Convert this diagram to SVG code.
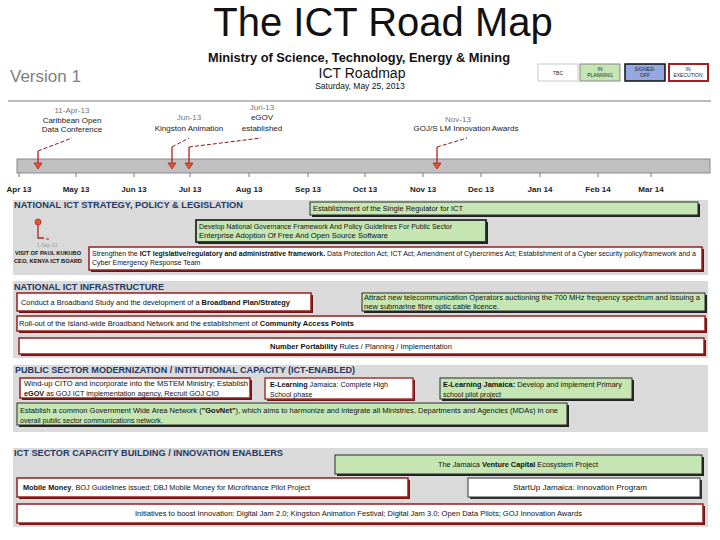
<svg xmlns="http://www.w3.org/2000/svg" width="720" height="540" viewBox="0 0 720 540">
<defs>
<style>
text{font-family:"Liberation Sans",Arial,sans-serif;fill:#111}
.panel{fill:#dadada}
.sec{font-size:9px;font-weight:bold;fill:#1f3864}
.red{fill:#fff;stroke:#9b1c1c;stroke-width:1.5}
.rsh{fill:#6b1616}
.grn{fill:#c5e6b3;stroke:#2a2a2a;stroke-width:1}
.gsh{fill:#222}
.bt{font-size:7px;fill:#111}
.mon{font-size:8px;font-weight:bold;fill:#222;text-anchor:middle}
.tick{stroke:#777;stroke-width:1}
.lbl{font-size:8px;fill:#222;text-anchor:middle}
.dt{font-size:8px;fill:#777;text-anchor:middle}
.dash{stroke:#8b1a1a;stroke-width:1;stroke-dasharray:4 2;fill:none}
.stem{stroke:#b22222;stroke-width:1.3;fill:none}
.tri{fill:#e4572e;stroke:#b22222;stroke-width:0.8}
.leg{font-size:5px;text-anchor:middle;fill:#222}
</style>
</defs>
<rect width="720" height="540" fill="#fff"/>

<!-- header -->
<g id="title">
<text x="383" y="36" font-size="40" text-anchor="middle" fill="#000">The ICT Road Map</text>
</g>
<g id="header">
<text x="359" y="62" font-size="12" font-weight="bold" text-anchor="middle" textLength="302" lengthAdjust="spacingAndGlyphs">Ministry of Science, Technology, Energy &amp; Mining</text>
<text x="362" y="78" font-size="14" text-anchor="middle">ICT Roadmap</text>
<text x="360" y="89" font-size="8.5" text-anchor="middle">Saturday, May 25, 2013</text>
<text x="10" y="82" font-size="17" fill="#808080" style="fill:#808080">Version 1</text>
<line x1="8" y1="101" x2="711" y2="101" stroke="#777" stroke-width="1"/>
</g>

<!-- legend -->
<g id="legend">
<rect x="538" y="64" width="40" height="17" fill="#fff" stroke="#c8c8c8" stroke-width="1"/>
<text class="leg" x="558" y="75">TBC</text>
<rect x="580" y="64" width="40" height="17" fill="#c5e6b3" stroke="#888" stroke-width="1"/>
<text class="leg" x="600" y="71">IN</text><text class="leg" x="600" y="77">PLANNING</text>
<rect x="625" y="64" width="40" height="17" fill="#94a9e2" stroke="#111" stroke-width="1.5"/>
<text class="leg" x="645" y="71">SIGNED-</text><text class="leg" x="645" y="77">OFF</text>
<rect x="669" y="64" width="39" height="17" fill="#fff" stroke="#a02020" stroke-width="2"/>
<text class="leg" x="688" y="71">IN</text><text class="leg" x="688" y="77">EXECUTION</text>
</g>

<!-- timeline -->
<g id="timeline">
<rect x="17" y="159" width="693" height="14" fill="#c0c0c0" stroke="#8a8a8a" stroke-width="1"/>
<g class="tick">
<line x1="19" y1="173" x2="19" y2="177"/><line x1="76" y1="173" x2="76" y2="177"/><line x1="134" y1="173" x2="134" y2="177"/><line x1="190" y1="173" x2="190" y2="177"/><line x1="249" y1="173" x2="249" y2="177"/><line x1="308" y1="173" x2="308" y2="177"/><line x1="365" y1="173" x2="365" y2="177"/><line x1="423" y1="173" x2="423" y2="177"/><line x1="481" y1="173" x2="481" y2="177"/><line x1="540" y1="173" x2="540" y2="177"/><line x1="598" y1="173" x2="598" y2="177"/><line x1="651" y1="173" x2="651" y2="177"/>
</g>
<text class="mon" x="19" y="192">Apr 13</text><text class="mon" x="76" y="192">May 13</text><text class="mon" x="134" y="192">Jun 13</text><text class="mon" x="190" y="192">Jul 13</text><text class="mon" x="249" y="192">Aug 13</text><text class="mon" x="308" y="192">Sep 13</text><text class="mon" x="365" y="192">Oct 13</text><text class="mon" x="423" y="192">Nov 13</text><text class="mon" x="481" y="192">Dec 13</text><text class="mon" x="540" y="192">Jan 14</text><text class="mon" x="598" y="192">Feb 14</text><text class="mon" x="651" y="192">Mar 14</text>
</g>

<!-- milestones -->
<g id="m-odc">
<text class="dt" x="72" y="113">11-Apr-13</text>
<text class="lbl" x="72" y="123">Caribbean Open</text>
<text class="lbl" x="72" y="132">Data Conference</text>
</g>
<g id="m-kingston">
<text class="dt" x="189" y="120">Jun-13</text>
<text class="lbl" x="189" y="131">Kingston Animation</text>
</g>
<g id="m-egov">
<text class="dt" x="262" y="110">Jun-13</text>
<text class="lbl" x="262" y="120">eGOV</text>
<text class="lbl" x="262" y="131">established</text>
</g>
<g id="m-awards">
<text class="dt" x="458" y="122">Nov-13</text>
<text class="lbl" x="466" y="131">GOJ/S LM Innovation Awards</text>
</g>

<!-- section 1 -->
<g id="sec1">
<rect class="panel" x="13" y="200" width="695" height="75"/>
<text class="sec" x="14" y="208" textLength="229" lengthAdjust="spacingAndGlyphs">NATIONAL ICT STRATEGY, POLICY &amp; LEGISLATION</text>
</g>
<g id="n-regulator">
<rect class="gsh" x="312" y="204" width="388" height="13"/>
<rect class="grn" x="310" y="202" width="388" height="13"/>
<text class="bt" x="313" y="211" textLength="150" lengthAdjust="spacingAndGlyphs">Establishment of the Single Regulator for ICT</text>
</g>
<g id="n-governance">
<rect class="gsh" x="198" y="222" width="290" height="22"/>
<rect class="grn" x="196" y="220" width="290" height="22" style="stroke-width:1.8"/>
<text class="bt" x="199" y="229" textLength="253" lengthAdjust="spacingAndGlyphs">Develop National Governance Framework And Policy Guidelines For Public Sector</text>
<text class="bt" x="199" y="238" textLength="189" lengthAdjust="spacingAndGlyphs">Enterprise Adoption Of Free And Open Source Software</text>
</g>
<g id="n-visit">
<circle cx="38" cy="222" r="3" fill="#e4572e" stroke="#b22222" stroke-width="0.8"/>
<polyline class="stem" points="38,225 38,238 44,238"/>
<line x1="46" y1="239" x2="49" y2="239" stroke="#b22222" stroke-width="1"/>
<text x="47" y="247" font-size="5" fill="#888" text-anchor="middle" style="fill:#999">1-Sep-13</text>
<text x="48" y="255" font-size="5.5" font-weight="bold" text-anchor="middle" textLength="66" lengthAdjust="spacingAndGlyphs">VISIT OF PAUL KUKUBO</text>
<text x="48" y="263" font-size="5.5" font-weight="bold" text-anchor="middle" textLength="68" lengthAdjust="spacingAndGlyphs">CEO, KENYA ICT BOARD</text>
</g>
<g id="n-strengthen">
<rect class="rsh" x="91" y="249" width="613" height="23"/>
<rect class="red" x="89" y="247" width="613" height="23"/>
<text class="bt" x="92" y="256" textLength="604" lengthAdjust="spacingAndGlyphs">Strengthen the <tspan font-weight="bold">ICT legislative/regulatory and administrative framework.</tspan> Data Protection Act; ICT Act; Amendment of Cybercrimes Act; Establishment of a Cyber security policy/framework and a</text>
<text class="bt" x="92" y="265">Cyber Emergency Response Team</text>
</g>

<!-- section 2 -->
<g id="sec2">
<rect class="panel" x="13" y="281" width="695" height="77"/>
<text class="sec" x="14" y="290" textLength="150" lengthAdjust="spacingAndGlyphs">NATIONAL ICT INFRASTRUCTURE</text>
</g>
<g id="n-study">
<rect class="rsh" x="19" y="295" width="294" height="18"/>
<rect class="red" x="17" y="293" width="294" height="18"/>
<text class="bt" x="21" y="305" textLength="269" lengthAdjust="spacingAndGlyphs">Conduct a Broadband Study and the development of a <tspan font-weight="bold">Broadband Plan/Strategy</tspan></text>
</g>
<g id="n-attract">
<rect class="gsh" x="364" y="295" width="343" height="18"/>
<rect class="grn" x="362" y="293" width="343" height="18"/>
<text class="bt" x="364" y="300" textLength="336" lengthAdjust="spacingAndGlyphs">Attract new telecommunication Operators auctioning the 700 MHz frequency spectrum and issuing a</text>
<text class="bt" x="364" y="309" textLength="135" lengthAdjust="spacingAndGlyphs">new submarine fibre optic cable licence.</text>
</g>
<g id="n-rollout">
<rect class="rsh" x="19" y="318" width="688" height="15"/>
<rect class="red" x="17" y="316" width="688" height="15"/>
<text class="bt" x="19" y="326" textLength="335" lengthAdjust="spacingAndGlyphs">Roll-out of the Island-wide Broadband Network and the establishment of <tspan font-weight="bold">Community Access Points</tspan></text>
</g>
<g id="n-portability">
<rect class="rsh" x="21" y="340" width="685" height="16"/>
<rect class="red" x="19" y="338" width="685" height="16"/>
<text class="bt" x="270" y="349" textLength="182" lengthAdjust="spacingAndGlyphs"><tspan font-weight="bold">Number Portability</tspan> Rules / Planning / Implementation</text>
</g>

<!-- section 3 -->
<g id="sec3">
<rect class="panel" x="13" y="365" width="695" height="67"/>
<text class="sec" x="15" y="373" textLength="340" lengthAdjust="spacingAndGlyphs">PUBLIC SECTOR MODERNIZATION / INTITUTIONAL CAPACITY (ICT-ENABLED)</text>
</g>
<g id="n-cito">
<rect class="rsh" x="22" y="380" width="230" height="20"/>
<rect class="red" x="20" y="378" width="230" height="20"/>
<text class="bt" x="24" y="386" textLength="224" lengthAdjust="spacingAndGlyphs">Wind-up CITO and incorporate into the MSTEM Ministry; Establish</text>
<text class="bt" x="24" y="396" textLength="195" lengthAdjust="spacingAndGlyphs"><tspan font-weight="bold">eGOV</tspan> as GOJ ICT implementation agency, Recruit GOJ CIO</text>
</g>
<g id="n-elearn-hs">
<rect class="rsh" x="267" y="380" width="148" height="21"/>
<rect class="red" x="265" y="378" width="148" height="21" style="stroke:#b03030"/>
<text class="bt" x="270" y="387" textLength="118" lengthAdjust="spacingAndGlyphs"><tspan font-weight="bold">E-Learning</tspan> Jamaica: Complete High</text>
<text class="bt" x="270" y="397">School phase</text>
</g>
<g id="n-elearn-pri">
<rect class="gsh" x="442" y="380" width="192" height="21"/>
<rect class="grn" x="440" y="378" width="192" height="21"/>
<text class="bt" x="443" y="387" textLength="179" lengthAdjust="spacingAndGlyphs"><tspan font-weight="bold">E-Learning Jamaica:</tspan> Develop and implement Primary</text>
<text class="bt" x="443" y="397">school pilot project</text>
</g>
<g id="n-govnet">
<rect class="gsh" x="19" y="405" width="550" height="22"/>
<rect class="grn" x="17" y="403" width="550" height="22"/>
<text class="bt" x="20" y="413" textLength="538" lengthAdjust="spacingAndGlyphs">Establish a common Government Wide Area Network (<tspan font-weight="bold">"GovNet"</tspan>), which aims to harmonize and integrate all Ministries, Departments and Agencies (MDAs) in one</text>
<text class="bt" x="20" y="423">overall public sector communications network.</text>
</g>

<!-- section 4 -->
<g id="sec4">
<rect class="panel" x="13" y="448" width="695" height="79"/>
<text class="sec" x="14" y="456" textLength="269" lengthAdjust="spacingAndGlyphs">ICT SECTOR CAPACITY BUILDING / INNOVATION ENABLERS</text>
</g>
<g id="n-venture">
<rect class="gsh" x="337" y="457" width="367" height="19"/>
<rect class="grn" x="335" y="455" width="367" height="19"/>
<text class="bt" x="518" y="467" text-anchor="middle" textLength="160" lengthAdjust="spacingAndGlyphs">The Jamaica <tspan font-weight="bold">Venture Capital</tspan> Ecosystem Project</text>
</g>
<g id="n-mobile">
<rect class="rsh" x="19" y="480" width="391" height="19"/>
<rect class="red" x="17" y="478" width="391" height="19"/>
<text class="bt" x="23" y="490" textLength="287" lengthAdjust="spacingAndGlyphs"><tspan font-weight="bold">Mobile Money</tspan>, BOJ Guidelines issued; DBJ Mobile Money for Microfinance Pilot Project</text>
</g>
<g id="n-startup">
<rect x="470" y="480" width="232" height="19" fill="#333"/>
<rect x="468" y="478" width="232" height="19" fill="#fff" stroke="#333" stroke-width="1"/>
<text class="bt" x="580" y="490" text-anchor="middle" textLength="134" lengthAdjust="spacingAndGlyphs">StartUp Jamaica: Innovation Program</text>
</g>
<g id="n-initiatives">
<rect class="rsh" x="19" y="506" width="686" height="19"/>
<rect class="red" x="17" y="504" width="686" height="19"/>
<text class="bt" x="135" y="516" textLength="447" lengthAdjust="spacingAndGlyphs">Initiatives to boost Innovation: Digital Jam 2.0; Kingston Animation Festival; Digital Jam 3.0; Open Data Pilots; GOJ Innovation Awards</text>
</g>

<!-- connectors -->
<g id="connectors">
<line class="dash" x1="38" y1="151" x2="72" y2="138"/>
<polyline class="stem" points="38,151 38,163"/>
<polygon class="tri" points="34,163 42,163 38,169"/>
<line class="dash" x1="172" y1="147" x2="189" y2="138"/>
<polyline class="stem" points="172,147 172,163"/>
<polygon class="tri" points="168,163 176,163 172,169"/>
<line class="dash" x1="189" y1="147" x2="261" y2="138"/>
<polyline class="stem" points="189,147 189,163"/>
<polygon class="tri" points="185,163 193,163 189,169"/>
<line class="dash" x1="437" y1="147" x2="467" y2="138"/>
<polyline class="stem" points="437,147 437,163"/>
<polygon class="tri" points="433,163 441,163 437,169"/>
</g>
</svg>
